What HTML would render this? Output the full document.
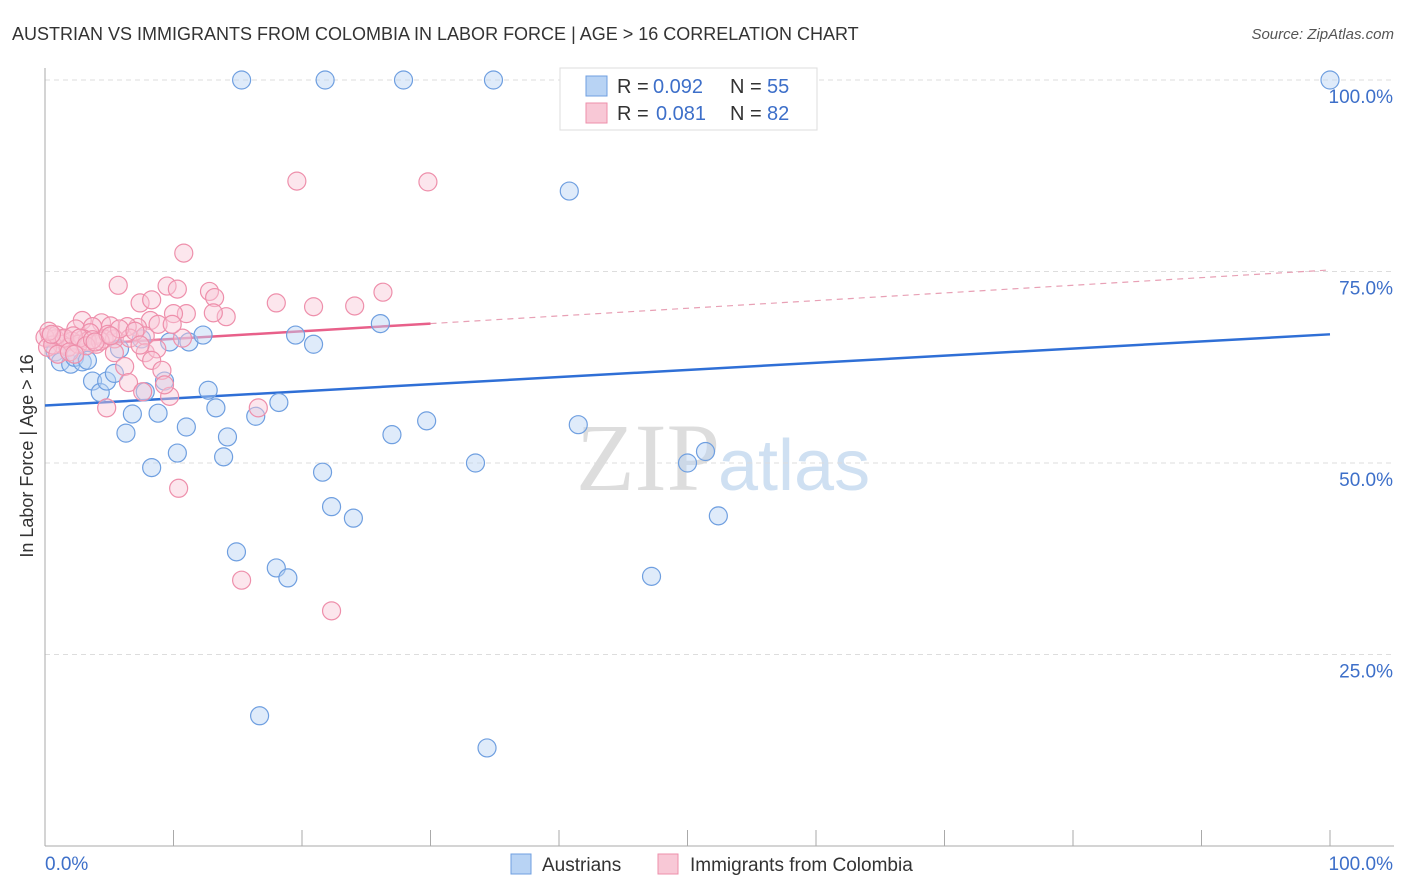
<!DOCTYPE html>
<html><head><meta charset="utf-8"><style>
body{margin:0;background:#fff;font-family:"Liberation Sans",sans-serif;}
svg{display:block}
</style></head><body>
<svg id="chart" width="1406" height="892" xmlns="http://www.w3.org/2000/svg">
<text x="12" y="40" font-size="18" fill="#333">AUSTRIAN VS IMMIGRANTS FROM COLOMBIA IN LABOR FORCE | AGE &gt; 16 CORRELATION CHART</text>
<text x="1394" y="39" font-size="15" fill="#555" font-style="italic" text-anchor="end">Source: ZipAtlas.com</text>
<text x="720" y="490" font-size="96" fill="#ddd" text-anchor="end" font-family="Liberation Serif,serif">ZIP</text>
<text x="718" y="490" font-size="72" fill="#cfe0f2">atlas</text>
<g id="grid"></g><g id="axes"></g><g id="lines"></g><g id="pts"></g>
<text transform="translate(33,456) rotate(-90)" font-size="18" fill="#333" text-anchor="middle">In Labor Force | Age &gt; 16</text>
<g>
<rect x="560" y="68" width="257" height="62" fill="#fff" stroke="#ddd"/>
<rect x="586" y="76" width="21" height="20" fill="#b8d3f4" stroke="#6f9fe0"/>
<text y="93" font-size="20" fill="#333"><tspan x="617">R =</tspan><tspan x="653" fill="#3d6fc9">0.092</tspan><tspan x="730">N =</tspan><tspan x="767" fill="#3d6fc9">55</tspan></text>
<rect x="586" y="103" width="21" height="20" fill="#f8c8d6" stroke="#ee8fab"/>
<text y="120" font-size="20" fill="#333"><tspan x="617">R =</tspan><tspan x="656" fill="#3d6fc9">0.081</tspan><tspan x="730">N =</tspan><tspan x="767" fill="#3d6fc9">82</tspan></text>
</g>
<g>
<rect x="511" y="854" width="20" height="20" fill="#b8d3f4" stroke="#6f9fe0"/>
<text x="542" y="871" font-size="19" fill="#333">Austrians</text>
<rect x="658" y="854" width="20" height="20" fill="#f8c8d6" stroke="#ee8fab"/>
<text x="690" y="871" font-size="19" fill="#333">Immigrants from Colombia</text>
</g>
</svg>
<script>
const yTicks=[25,50,75,100];
const xTickLabels=["0.0%","100.0%"];
const blueX=[15.3,21.8,27.9,34.9,100,40.8,0.8,1.2,2,2.3,2.9,3.3,3.7,4.3,4.8,5.4,5.8,6.3,6.8,7.5,7.8,8.3,8.8,9.3,9.7,10.3,11,11.2,12.3,12.7,13.3,13.9,14.2,14.9,16.4,16.7,18,18.2,18.9,19.5,20.9,21.6,22.3,24,26.1,27,29.7,33.5,34.4,41.5,47.2,50,51.4,52.4];
const blueY=[100,100,100,100,100,85.5,64.5,63.2,62.9,63.8,63.2,63.4,60.7,59.2,60.7,61.7,64.9,53.9,56.4,66.2,59.3,49.4,56.5,60.7,65.8,51.3,54.7,65.8,66.7,59.5,57.2,50.8,53.4,38.4,56.1,17,36.3,57.9,35,66.7,65.5,48.8,44.3,42.8,68.2,53.7,55.5,50,12.8,55,35.2,50,51.5,43.1];
const pinkX=[19.6,29.8,10.8,5.7,9.5,10.3,12.8,13.2,7.4,8.3,18,20.9,24.1,26.3,14.1,11,10,13.1,8.2,7.2,2.9,4.4,5.1,6.4,2.4,3.7,3.5,3,4,4.6,5.4,6.6,7.8,8.8,10.7,9.9,1.2,1.6,2.1,0.4,0.8,1.3,0,0.2,0.6,1.8,2.6,3.3,4.3,5.4,6.2,7.8,8.7,8.3,9.1,6.5,7.6,9.7,9.3,4.8,16.6,10.4,15.3,22.3,0.9,1.5,2.2,2.7,3.2,3.7,4.9,5.8,7,0.3,0.5,1,1.9,2.3,3.9,5.1,7.4];
const pinkY=[86.8,86.7,77.4,73.2,73.1,72.7,72.4,71.6,70.9,71.3,70.9,70.4,70.5,72.3,69.1,69.5,69.5,69.6,68.6,67.7,68.6,68.3,67.9,67.8,67.5,67.8,67,66.2,65.5,66.2,66.2,66.3,66.6,68.1,66.3,68.1,66.2,66.2,65.9,66.6,66.2,65.5,66.4,65.1,65.4,65.1,65.5,65.9,65.9,64.4,62.6,64.4,64.9,63.4,62.1,60.5,59.3,58.7,60.2,57.2,57.2,46.7,34.7,30.7,66.7,66.3,66.6,66.3,65.3,66.1,66.8,67.5,67.2,67.2,66.8,64.2,64.5,64.2,65.8,66.6,65.4,67.8];
const blueTrend=[57.5,66.8], pinkTrend=[65.2,75.2], pinkSolidEnd=30;
const X=v=>45+v*12.85, Y=v=>846-v*7.66;
const NS="http://www.w3.org/2000/svg";
function mk(tag,attrs,parent){const e=document.createElementNS(NS,tag);for(const k in attrs)e.setAttribute(k,attrs[k]);parent.appendChild(e);return e;}
const grid=document.getElementById('grid'),axes=document.getElementById('axes'),lines=document.getElementById('lines'),pts=document.getElementById('pts');
yTicks.forEach(t=>{
 const l=mk('line',{x1:45,x2:1394,y1:Y(t),y2:Y(t),stroke:'#ddd','stroke-dasharray':'5,4'},grid);
 
 
 const tx=mk('text',{x:1393,y:Y(t)+23,'font-size':19,fill:'#3d6fc9','text-anchor':'end'},axes);
 tx.textContent=t.toFixed(1)+'%';
 
 
});
mk('line',{x1:45,x2:45,y1:68,y2:846,stroke:'#aaa'},axes);
mk('line',{x1:45,x2:1394,y1:846,y2:846,stroke:'#aaa'},axes);
for(let i=1;i<=10;i++){mk('line',{x1:X(i*10),x2:X(i*10),y1:830,y2:846,stroke:'#aaa'},axes);}
xTickLabels.forEach((s,i)=>{
 const tx=mk('text',{x:i?1393:45,y:870,'font-size':19,fill:'#3d6fc9','text-anchor':i?'end':'start'},axes);
 tx.textContent=s;
 
 
});
function dot(x,y,c,s,name){const e=mk('circle',{cx:X(x),cy:Y(y),r:9,fill:c,'fill-opacity':0.45,stroke:s,'stroke-width':1.2},pts);
 
 }
blueX.forEach((x,i)=>dot(x,blueY[i],'#b8d3f4','#6f9fe0','austrian-point'));
pinkX.forEach((x,i)=>dot(x,pinkY[i],'#f8c8d6','#ee8fab','colombia-point'));
const pv=x=>pinkTrend[0]+(pinkTrend[1]-pinkTrend[0])*x/100;
const bl=mk('line',{x1:X(0),y1:Y(blueTrend[0]),x2:X(100),y2:Y(blueTrend[1]),stroke:'#2f6fd6','stroke-width':2.5},lines);


const pl=mk('line',{x1:X(0),y1:Y(pv(0)),x2:X(pinkSolidEnd),y2:Y(pv(pinkSolidEnd)),stroke:'#e8608a','stroke-width':2.5},lines);


const pd=mk('line',{x1:X(pinkSolidEnd),y1:Y(pv(pinkSolidEnd)),x2:X(100),y2:Y(pv(100)),stroke:'#e8a0b5','stroke-width':1.2,'stroke-dasharray':'6,5'},lines);


</script>
</body></html>
